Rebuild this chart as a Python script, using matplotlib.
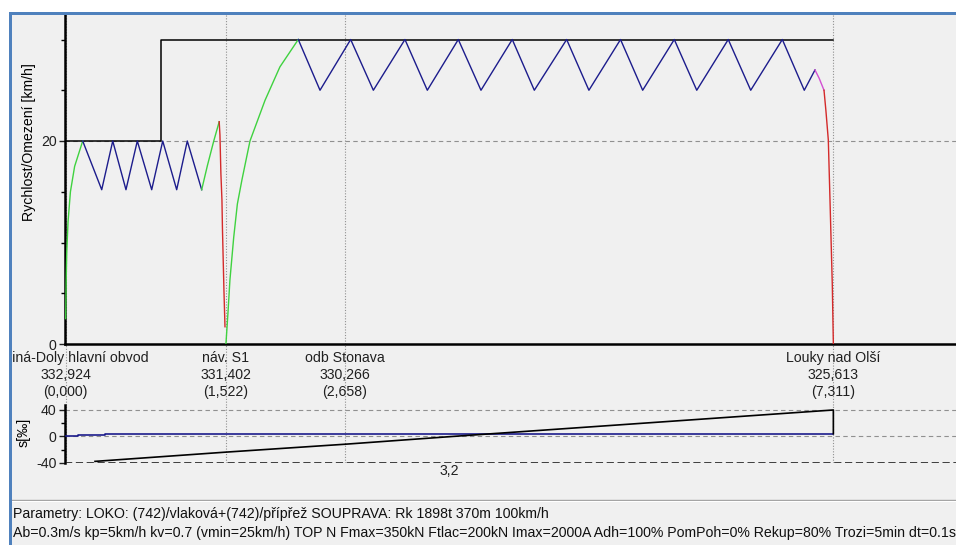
import matplotlib
matplotlib.use("Agg")
import matplotlib.pyplot as plt
from matplotlib.patches import Rectangle
from matplotlib.lines import Line2D
from matplotlib.transforms import blended_transform_factory, Bbox, TransformedBbox
from matplotlib.ticker import MultipleLocator, FixedLocator

plt.rcParams['font.family'] = ['Liberation Sans', 'DejaVu Sans']
plt.rcParams['axes.unicode_minus'] = False

# ---- speed limit (km, km/h) ----
limit_km = [0.0, 0.908, 0.908, 7.311]
limit_v = [20, 20, 30, 30]

# ---- speed profile segments (km, km/h) ----
accel1_km = [0.000, 0.004, 0.010, 0.022, 0.045, 0.085, 0.162]
accel1_v = [2.5, 6.0, 9.0, 12.0, 15.0, 17.5, 20.0]

coast1_km = [0.162, 0.343, 0.448, 0.574, 0.682, 0.819, 0.924, 1.057, 1.158, 1.295]
coast1_v = [20.0, 15.2, 20.0, 15.2, 20.0, 15.2, 20.0, 15.2, 20.0, 15.2]

accel2_km = [1.295, 1.350, 1.410, 1.462]
accel2_v = [15.2, 17.6, 20.0, 21.9]

brake1_km = [1.462, 1.469, 1.478, 1.488, 1.493, 1.507, 1.517]
brake1_v = [21.9, 20.6, 16.8, 14.2, 11.3, 5.3, 1.7]

accel3_km = [1.526, 1.545, 1.564, 1.600, 1.635, 1.679, 1.755, 1.898, 2.040, 2.215]
accel3_v = [0.0, 3.0, 6.3, 10.5, 13.8, 16.2, 20.0, 24.0, 27.3, 30.0]

coast2_km = [2.215, 2.422, 2.714, 2.930, 3.231, 3.444, 3.739, 3.955, 4.253, 4.463,
             4.771, 4.983, 5.284, 5.495, 5.796, 6.010, 6.310, 6.524, 6.825, 7.034, 7.136]
coast2_v = [30, 25, 30, 25, 30, 25, 30, 25, 30, 25,
            30, 25, 30, 25, 30, 25, 30, 25, 30, 25, 27]

idle_km = [7.136, 7.175, 7.222]
idle_v = [27.0, 26.2, 25.0]

brake2_km = [7.222, 7.240, 7.263, 7.279, 7.301, 7.311]
brake2_v = [25.0, 23.0, 20.1, 14.2, 5.8, 0.0]

# ---- stations ----
station_km = [0.000, 1.522, 2.658, 7.311]
station_names = ["Karviná-Doly hlavní obvod", "náv. S1", "odb Stonava", "Louky nad Olší"]
station_pos = ["332,924", "331,402", "330,266", "325,613"]
station_dist = ["(0,000)", "(1,522)", "(2,658)", "(7,311)"]

# ---- gradient profile (‰) ----
grad_km = [0.000, 0.120, 0.120, 0.375, 0.375, 7.311]
grad_val = [0, 0, 2, 2, 4, 4]
height_km = [0.279, 1.522, 2.658, 3.700, 7.311, 7.311]
height_val = [-38, -24, -12, 0, 40, 4]
grad_label = "3,2"
grad_label_km = 3.656

params_line1 = "Parametry: LOKO: (742)/vlaková+(742)/přípřež SOUPRAVA: Rk 1898t 370m 100km/h"
params_line2 = ("Ab=0.3m/s kp=5km/h kv=0.7 (vmin=25km/h) TOP N Fmax=350kN Ftlac=200kN "
                "Imax=2000A Adh=100% PomPoh=0% Rekup=80% Trozi=5min dt=0.1s")

BG = "#f0f0f0"
W, H = 956, 545
FS = 10.2

fig = plt.figure(figsize=(W / 100, H / 100), dpi=100, facecolor=BG)


def fx(px):
    return px / W


def fy(py):
    return (H - py) / H


x_left_px = 65.0
km_per_px = 1 / 105.0
xmin = (x_left_px - 65.7) * km_per_px
xmax = xmin + (W - x_left_px) * km_per_px
axw_px = W - x_left_px

# main speed axes
ax = fig.add_axes([fx(x_left_px), fy(344), 1 - fx(x_left_px), (344 - 15) / H])
ax.set_facecolor(BG)
ax.set_xlim(xmin, xmax)
ax.set_ylim(0, 329 / 10.15)
for s in ("top", "right"):
    ax.spines[s].set_visible(False)
for s in ("left", "bottom"):
    ax.spines[s].set_linewidth(1.8)
    ax.spines[s].set_color("black")
ax.set_xticks([])
ax.yaxis.set_major_locator(FixedLocator([0, 20]))
ax.yaxis.set_minor_locator(MultipleLocator(5))
ax.tick_params(axis="y", which="major", length=4, width=1, labelsize=FS, pad=2, colors="#202020")
ax.tick_params(axis="y", which="minor", length=3, width=1)
ax.set_ylabel("Rychlost/Omezení [km/h]", fontsize=FS)
ax.yaxis.set_label_coords(-(x_left_px - 36) / axw_px, (344 - 142) / 329)
ax.axhline(20, color="#909090", lw=0.8, ls=(0, (4, 3)), zorder=1)

grid_ext = (405 - 344) / (344 - 15)
for k in station_km:
    ax.axvline(k, ymin=-grid_ext, ymax=1, color="#909090", lw=0.8, ls=(0, (1, 1.5)),
               clip_on=False, zorder=1)

ax.plot(limit_km, limit_v, color="black", lw=1.1, zorder=3)
green = "#3fd23f"
blue = "#1c1c8c"
red = "#d42a2a"
magenta = "#d24fd2"
ax.plot(accel1_km, accel1_v, color=green, lw=1.0, zorder=4)
ax.plot(coast1_km, coast1_v, color=blue, lw=1.0, zorder=4)
ax.plot(accel2_km, accel2_v, color=green, lw=1.0, zorder=4)
ax.plot(brake1_km, brake1_v, color=red, lw=1.0, zorder=4)
ax.plot(accel3_km, accel3_v, color=green, lw=1.0, zorder=4)
ax.plot(coast2_km, coast2_v, color=blue, lw=1.0, zorder=4)
ax.plot(idle_km, idle_v, color=magenta, lw=1.0, zorder=4)
ax.plot(brake2_km, brake2_v, color=red, lw=1.0, zorder=4)

# station labels between panels
tr = blended_transform_factory(ax.transData, fig.transFigure)
clip = TransformedBbox(Bbox([[fx(12), 0], [1, 1]]), fig.transFigure)
for k, n, p, d in zip(station_km, station_names, station_pos, station_dist):
    for txt, py in ((n, 358), (p, 375), (d, 392)):
        t = fig.text(k, fy(py), txt, transform=tr, ha="center", va="center",
                     fontsize=FS, color="#202020")
        t.set_clip_box(clip)
        t.set_clip_on(True)

# gradient axes
ax2 = fig.add_axes([fx(x_left_px), fy(462.7), 1 - fx(x_left_px), 57.7 / H])
ax2.set_facecolor(BG)
ax2.patch.set_alpha(0)
ax2.set_xlim(xmin, xmax)
ax2.set_ylim(-40, -40 + 57.7 / 0.659)
for s in ("top", "right", "bottom"):
    ax2.spines[s].set_visible(False)
ax2.spines["left"].set_linewidth(1.8)
ax2.set_xticks([])
ax2.yaxis.set_major_locator(FixedLocator([-40, 0, 40]))
ax2.yaxis.set_minor_locator(MultipleLocator(20))
ax2.tick_params(axis="y", which="major", length=4, width=1, labelsize=FS, pad=2, colors="#202020")
ax2.tick_params(axis="y", which="minor", length=3, width=1)
ax2.set_ylabel("s[‰]", fontsize=FS)
ax2.yaxis.set_label_coords(-(x_left_px - 31) / axw_px, (462.7 - 432) / 57.7)
for v in (40, 0):
    ax2.axhline(v, color="#909090", lw=0.8, ls=(0, (4, 3)), zorder=1)
ax2.axhline(-40, color="#303030", lw=1.3, ls=(0, (4, 2)), zorder=1)
for k in station_km:
    ax2.axvline(k, color="#909090", lw=0.8, ls=(0, (1, 1.5)), zorder=1)
ax2.plot(grad_km, grad_val, color=blue, lw=1.2, zorder=3)
ax2.plot(height_km, height_val, color="black", lw=1.2, zorder=4)
fig.text(grad_label_km, fy(471), grad_label, transform=tr, ha="center", va="center",
         fontsize=FS, color="#202020")

# parameter text area
fig.add_artist(Line2D([fx(12), 1], [fy(500), fy(500)], color="#a0a0a0", lw=1.0,
                      transform=fig.transFigure, zorder=5))
fig.add_artist(Line2D([fx(12), 1], [fy(501), fy(501)], color="white", lw=0.8,
                      transform=fig.transFigure, zorder=5))
fig.text(fx(13), fy(514), params_line1, ha="left", va="center", fontsize=FS, color="#101010")
fig.text(fx(13), fy(533), params_line2, ha="left", va="center", fontsize=FS, color="#101010")

# window frame
fig.add_artist(Rectangle((0, fy(12)), 1, 12 / H, transform=fig.transFigure,
                         facecolor="white", edgecolor="none", zorder=10))
fig.add_artist(Rectangle((0, 0), fx(9), 1, transform=fig.transFigure,
                         facecolor="white", edgecolor="none", zorder=10))
fig.add_artist(Rectangle((fx(9), fy(15)), 1, 3 / H, transform=fig.transFigure,
                         facecolor="#4f81bd", edgecolor="none", zorder=11))
fig.add_artist(Rectangle((fx(9), 0), 3 / W, fy(12), transform=fig.transFigure,
                         facecolor="#4f81bd", edgecolor="none", zorder=11))

fig.savefig("out.png", dpi=100, facecolor=BG)
